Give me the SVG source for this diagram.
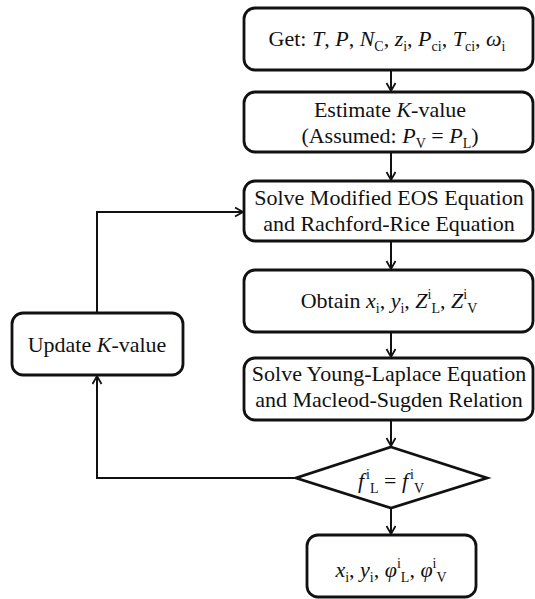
<svg xmlns="http://www.w3.org/2000/svg" width="535" height="599" viewBox="0 0 535 599">
<style>
.box{fill:#fff;stroke:#111;stroke-width:2.8}
.c{fill:none;stroke:#111;stroke-width:2}
text{font-family:"Liberation Serif","Times New Roman",serif;font-size:22px;fill:#111;text-anchor:middle}
.i{font-style:italic}
.s{font-size:14px}
</style>
<defs>
<marker id="ah" markerUnits="userSpaceOnUse" markerWidth="12" markerHeight="12" refX="9" refY="5" orient="auto">
<path d="M1,0.5 L9,5 L1,9.5" fill="none" stroke="#111" stroke-width="1.8"/>
</marker>
</defs>
<rect width="535" height="599" fill="#fff"/>
<g id="connectors">
<line class="c" x1="391" y1="70" x2="391" y2="91" marker-end="url(#ah)"/>
<line class="c" x1="391" y1="152" x2="391" y2="180" marker-end="url(#ah)"/>
<line class="c" x1="391" y1="241" x2="391" y2="269" marker-end="url(#ah)"/>
<line class="c" x1="391" y1="332" x2="391" y2="357" marker-end="url(#ah)"/>
<line class="c" x1="391" y1="420" x2="391" y2="446" marker-end="url(#ah)"/>
<line class="c" x1="391" y1="508" x2="391" y2="534" marker-end="url(#ah)"/>
<polyline class="c" points="296,478 97,478 97,376" marker-end="url(#ah)"/>
<polyline class="c" points="97,313 97,212 243,212" marker-end="url(#ah)"/>
</g>
<g id="n1">
<rect class="box" x="244" y="8" width="289" height="62" rx="11"/>
<text x="387" y="46">Get: <tspan class="i">T</tspan>, <tspan class="i">P</tspan>, <tspan class="i">N</tspan><tspan class="s" dy="5">C</tspan><tspan dy="-5">, </tspan><tspan class="i">z</tspan><tspan class="s" dy="5">i</tspan><tspan dy="-5">, </tspan><tspan class="i">P</tspan><tspan class="s" dy="5">ci</tspan><tspan dy="-5">, </tspan><tspan class="i">T</tspan><tspan class="s" dy="5">ci</tspan><tspan dy="-5">, </tspan><tspan class="i">ω</tspan><tspan class="s" dy="5">i</tspan></text>
</g>
<g id="n2">
<rect class="box" x="244" y="92" width="289" height="60" rx="11"/>
<text x="390" y="117">Estimate <tspan class="i">K</tspan>-value</text>
<text x="390" y="143">(Assumed: <tspan class="i">P</tspan><tspan class="s" dy="5">V</tspan><tspan dy="-5"> = </tspan><tspan class="i">P</tspan><tspan class="s" dy="5">L</tspan><tspan dy="-5">)</tspan></text>
</g>
<g id="n3">
<rect class="box" x="244" y="181" width="289" height="60" rx="11"/>
<text x="389" y="205">Solve Modified EOS Equation</text>
<text x="389" y="231">and Rachford-Rice Equation</text>
</g>
<g id="n4">
<rect class="box" x="244" y="270" width="289" height="62" rx="11"/>
<text x="389" y="308">Obtain <tspan class="i">x</tspan><tspan class="s" dy="5">i</tspan><tspan dy="-5">, </tspan><tspan class="i">y</tspan><tspan class="s" dy="5">i</tspan><tspan dy="-5">, </tspan><tspan class="i">Z</tspan><tspan class="s" dy="-9">i</tspan><tspan class="s" dy="14">L</tspan><tspan dy="-5">, </tspan><tspan class="i">Z</tspan><tspan class="s" dy="-9">i</tspan><tspan class="s" dy="14">V</tspan></text>
</g>
<g id="n5">
<rect class="box" x="244" y="358" width="289" height="62" rx="11"/>
<text x="389" y="381">Solve Young-Laplace Equation</text>
<text x="389" y="407">and Macleod-Sugden Relation</text>
</g>
<g id="n6">
<polygon class="box" points="391,447 487,478 391,508 296,478"/>
<text x="391" y="488"><tspan class="i">f</tspan><tspan class="s" dx="2" dy="-9">i</tspan><tspan class="s" dy="14">L</tspan><tspan dy="-5"> = </tspan><tspan class="i">f</tspan><tspan class="s" dx="2" dy="-9">i</tspan><tspan class="s" dy="14">V</tspan></text>
</g>
<g id="n7">
<rect class="box" x="307" y="535" width="169" height="62" rx="11"/>
<text x="391" y="577"><tspan class="i">x</tspan><tspan class="s" dy="5">i</tspan><tspan dy="-5">, </tspan><tspan class="i">y</tspan><tspan class="s" dy="5">i</tspan><tspan dy="-5">, </tspan><tspan class="i">φ</tspan><tspan class="s" dy="-9">i</tspan><tspan class="s" dy="14">L</tspan><tspan dy="-5">, </tspan><tspan class="i">φ</tspan><tspan class="s" dy="-9">i</tspan><tspan class="s" dy="14">V</tspan></text>
</g>
<g id="n8">
<rect class="box" x="12" y="313" width="171" height="62" rx="11"/>
<text x="97" y="352">Update <tspan class="i">K</tspan>-value</text>
</g>
</svg>
